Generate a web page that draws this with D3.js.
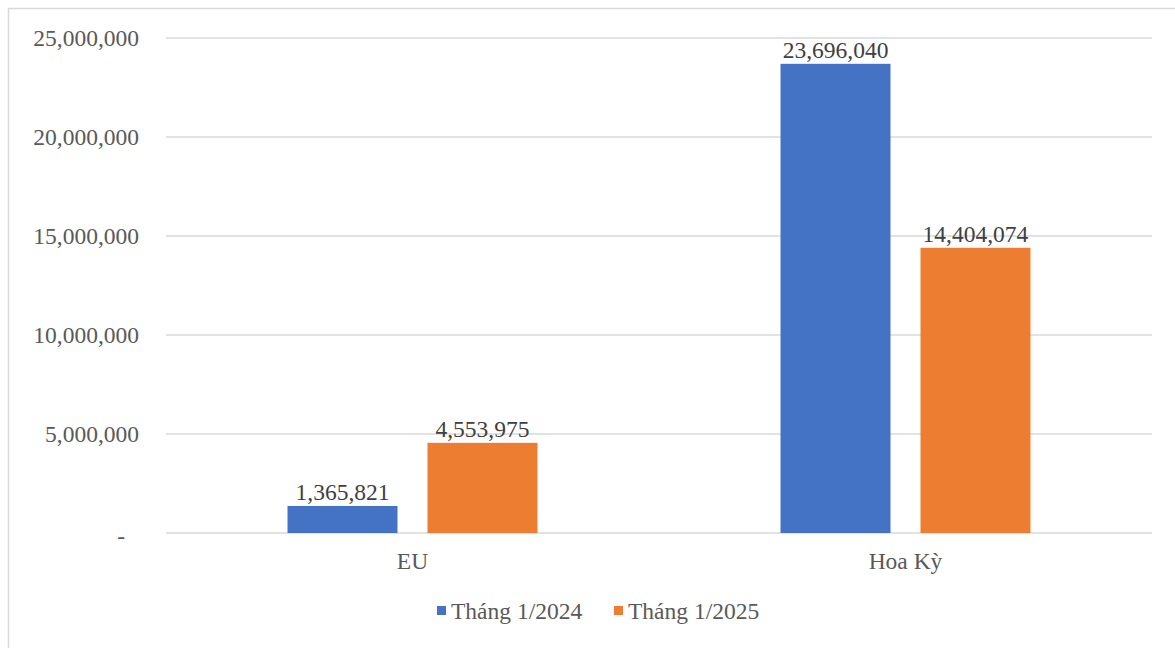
<!DOCTYPE html>
<html><head><meta charset="utf-8">
<script src="https://cdn.jsdelivr.net/npm/d3@7"></script>
<style>body{margin:0;background:#fff}svg{display:block}</style>
</head><body>
<svg id="c" width="1175" height="648"></svg>
<script>
const categories = ["EU", "Hoa Kỳ"];
const seriesNames = ["Tháng 1/2024", "Tháng 1/2025"];
const values2024 = [1365821, 23696040];
const values2025 = [4553975, 14404074];
const tickValues = [0, 5000000, 10000000, 15000000, 20000000, 25000000];
const colors = ["#4472C4", "#ED7D31"];

const svg = d3.select("#c");
const W = 1175, H = 648;
const m = {left: 166, right: 23, top: 38, bottom: 115};
const font = "'Liberation Serif','Times New Roman',serif";
const textColor = "#595959";
const fs = 23.5;

svg.append("rect").attr("x", 8.5).attr("y", 8.5).attr("width", W + 10).attr("height", H + 10)
  .attr("fill", "#fff").attr("stroke", "#d9d9d9").attr("stroke-width", 1.5);

const x = d3.scaleBand().domain(categories).range([m.left, W - m.right]);
const xs = d3.scaleBand().domain(seriesNames).range([0, x.bandwidth()]).paddingInner(30 / 140).paddingOuter(0.868);
const y = d3.scaleLinear().domain([0, 25000000]).range([H - m.bottom, m.top]);

const fmt = d3.format(",");
// gridlines
svg.append("g").selectAll("line").data(tickValues).join("line")
  .attr("x1", m.left).attr("x2", W - m.right)
  .attr("y1", d => y(d)).attr("y2", d => y(d))
  .attr("stroke", "#d9d9d9").attr("stroke-width", 1.5);

// y axis labels
const yAxis = d3.axisLeft(y).tickValues(tickValues).tickSize(0).tickPadding(27)
  .tickFormat(d => d === 0 ? "-" : fmt(d));
const ga = svg.append("g").attr("transform", `translate(${m.left},0)`).call(yAxis);
ga.select(".domain").remove();
ga.selectAll("text").attr("font-family", font).attr("font-size", fs).attr("fill", textColor);
ga.selectAll(".tick").filter(d => d === 0).select("text").attr("dx", -14).attr("dy", "0.45em");

// x axis labels
const xAxis = d3.axisBottom(x).tickSize(0).tickPadding(19);
const gx = svg.append("g").attr("transform", `translate(0,${y(0)})`).call(xAxis);
gx.select(".domain").remove();
gx.selectAll("text").attr("font-family", font).attr("font-size", fs).attr("fill", textColor);

const series = [values2024, values2025];
const data = [];
categories.forEach((c, i) => seriesNames.forEach((s, j) => data.push({c, s, v: series[j][i], col: colors[j]})));

svg.append("g").selectAll("rect").data(data).join("rect")
  .attr("x", d => x(d.c) + xs(d.s)).attr("width", xs.bandwidth())
  .attr("y", d => y(d.v)).attr("height", d => y(0) - y(d.v))
  .attr("fill", d => d.col);

svg.append("g").selectAll("text").data(data).join("text")
  .attr("x", d => x(d.c) + xs(d.s) + xs.bandwidth() / 2)
  .attr("y", d => y(d.v) - 6)
  .attr("text-anchor", "middle")
  .attr("font-family", font).attr("font-size", fs).attr("fill", "#404040")
  .text(d => fmt(d.v));

// legend
const leg = svg.append("g");
const legX = [437, 614];
seriesNames.forEach((s, i) => {
  leg.append("rect").attr("x", legX[i]).attr("y", 606).attr("width", 9).attr("height", 9).attr("fill", colors[i]);
  leg.append("text").attr("x", legX[i] + 14).attr("y", 619)
    .attr("font-family", font).attr("font-size", fs).attr("fill", textColor).text(s);
});
</script>
</body></html>
